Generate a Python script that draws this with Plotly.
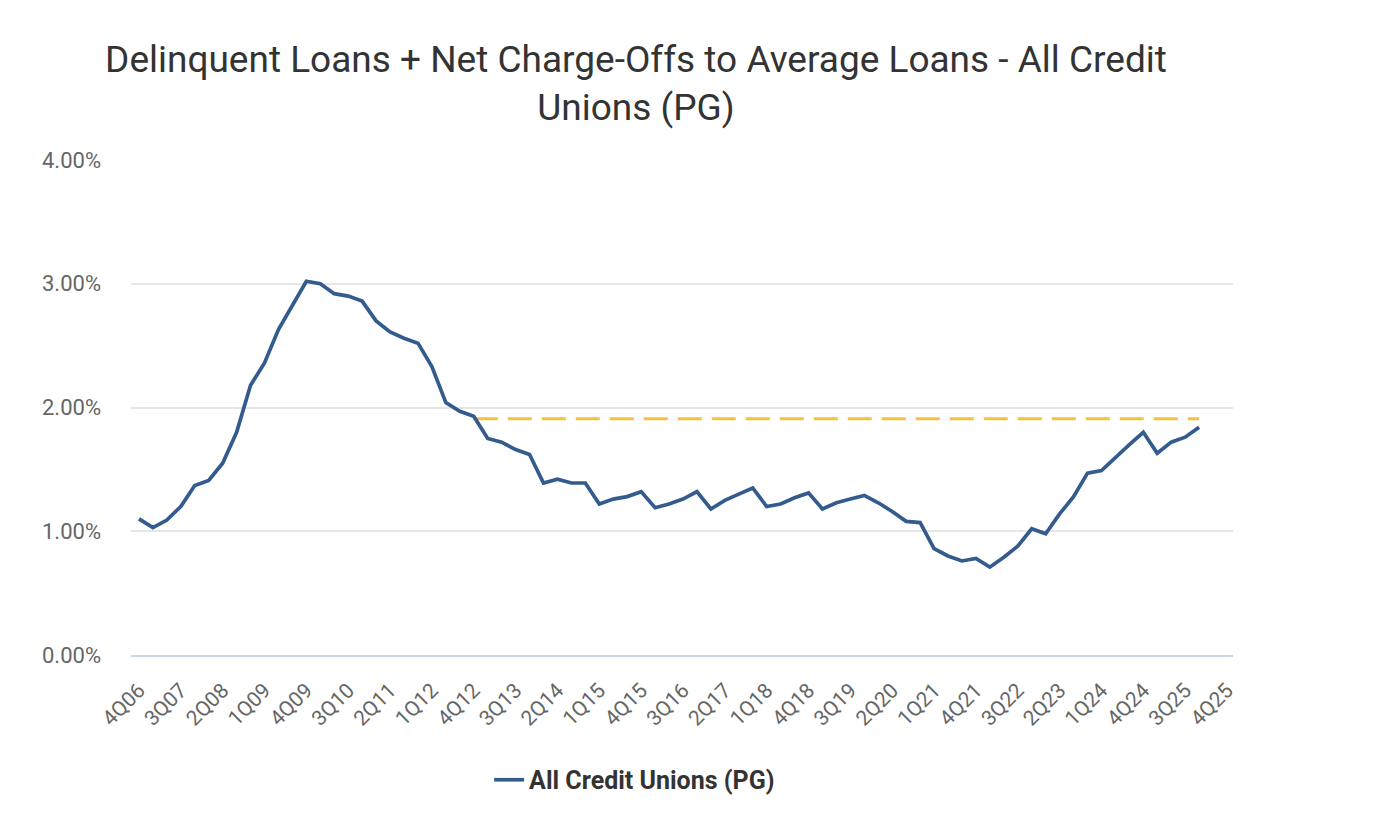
import plotly.graph_objects as go

# Quarterly values (%), 4Q06 .. 4Q25
quarters = [f"{q}Q{y:02d}" for y in range(6, 26) for q in range(1, 5)][3:]
values = [
    1.10, 1.03, 1.09, 1.20, 1.37, 1.41, 1.55, 1.80, 2.18, 2.36,
    2.63, 2.83, 3.02, 3.00, 2.92, 2.90, 2.86, 2.70, 2.61, 2.56,
    2.52, 2.33, 2.04, 1.97, 1.93, 1.75, 1.72, 1.66, 1.62, 1.39,
    1.42, 1.39, 1.39, 1.22, 1.26, 1.28, 1.32, 1.19, 1.22, 1.26,
    1.32, 1.18, 1.25, 1.30, 1.35, 1.20, 1.22, 1.27, 1.31, 1.18,
    1.23, 1.26, 1.29, 1.23, 1.16, 1.08, 1.07, 0.86, 0.80, 0.76,
    0.78, 0.71, 0.79, 0.88, 1.02, 0.98, 1.14, 1.28, 1.47, 1.49,
    1.60, 1.70, 1.80, 1.63, 1.72, 1.76, 1.84,
]
benchmark_value = 1.91
benchmark_start = "4Q12"

tick_labels = ["4Q06", "3Q07", "2Q08", "1Q09", "4Q09", "3Q10", "2Q11", "1Q12",
               "4Q12", "3Q13", "2Q14", "1Q15", "4Q15", "3Q16", "2Q17", "1Q18",
               "4Q18", "3Q19", "2Q20", "1Q21", "4Q21", "3Q22", "2Q23", "1Q24",
               "4Q24", "3Q25", "4Q25"]
tick_positions = [3 * i for i in range(len(tick_labels))]

y_ticks = [0, 1, 2, 3, 4]
y_tick_text = ["0.00%", "1.00%", "2.00%", "3.00%", "4.00%"]

x_idx = list(range(len(values)))
b_start = quarters.index(benchmark_start)
b_x = x_idx[b_start:]
b_y = [benchmark_value] * len(b_x)

W, H = 1380, 812  # page adds an 8px body margin

fig = go.Figure()
fig.add_trace(go.Scatter(
    x=b_x, y=b_y, mode="lines", showlegend=False,
    line=dict(color="#f6c23e", width=3, dash="24px,10px"),
    hoverinfo="skip",
))
fig.add_trace(go.Scatter(
    x=x_idx, y=values, mode="lines", name="All Credit Unions (PG)",
    line=dict(color="#335b8e", width=3.7),
    text=quarters,
))

fig.update_layout(
    width=W, height=H,
    paper_bgcolor="white", plot_bgcolor="white",
    margin=dict(l=123, r=155, t=152, b=165),
    font=dict(family="Roboto", color="#666666"),
    title=dict(
        text="Delinquent Loans + Net Charge-Offs to Average Loans - All Credit<br>Unions (PG)",
        x=628 / W, xanchor="center", y=1 - 64 / H, yanchor="top",
        font=dict(family="Roboto", size=37, color="#333333"),
    ),
    legend=dict(
        orientation="h", x=0.457, xanchor="center", y=-0.2525, yanchor="middle",
        font=dict(family="Roboto", size=25, color="#333333", weight="bold"),
    ),
    xaxis=dict(
        range=[-0.57, 78.43],
        tickvals=tick_positions, ticktext=tick_labels,
        tickangle=-45, showgrid=False, zeroline=False,
        showline=True, linecolor="#ccd6eb", linewidth=1.5,
        ticks="", ticklabelstandoff=13,
        tickfont=dict(family="Roboto", size=21, color="#666666"),
    ),
    yaxis=dict(
        range=[0, 4], tickvals=y_ticks, ticktext=y_tick_text,
        showgrid=True, gridcolor="#e6e6e6", gridwidth=1.5,
        zeroline=False, ticks="", ticklabelstandoff=29,
        tickfont=dict(family="Roboto", size=22, color="#666666"),
    ),
)

fig.write_html("out.html")
